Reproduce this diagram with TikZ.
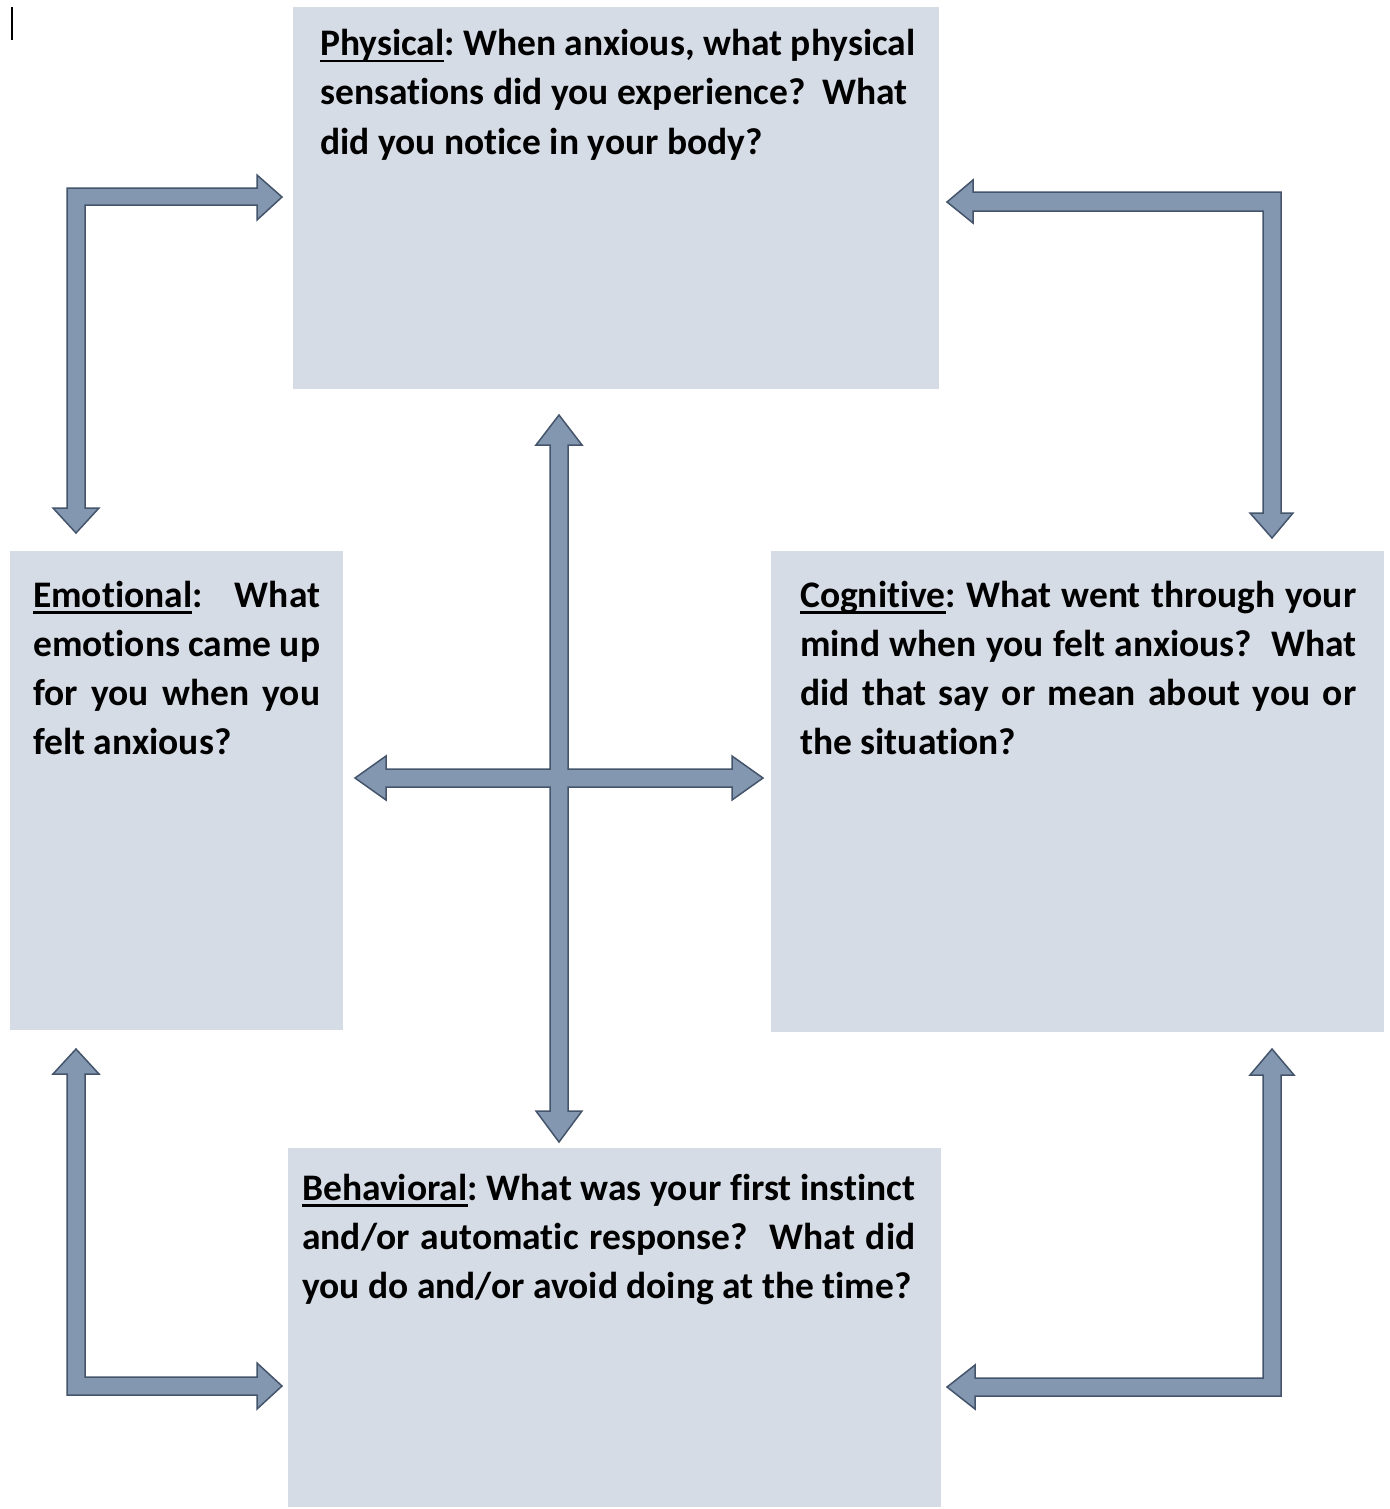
\documentclass[tikz,border=0pt]{standalone}
\usepackage{fontspec}
\setmainfont{Carlito}[Ligatures=NoCommon]
\frenchspacing
\definecolor{boxfill}{HTML}{D6DCE5}
\definecolor{arrfill}{HTML}{8497B0}
\definecolor{arrline}{HTML}{44546A}
\newcommand{\myul}[1]{{\setbox0\hbox{#1}\rlap{\rule[-6.5pt]{\wd0}{2.4pt}}\box0}}
\newcommand{\jl}[2]{\makebox[#1pt][s]{#2}}
\tikzset{
  box/.style={fill=boxfill, draw=none, anchor=north west, inner sep=0pt},
  txt/.style={anchor=base west, inner sep=0pt, font=\fontsize{37.5}{49}\selectfont\bfseries},
  blockarrow/.style={fill=arrfill, draw=arrline, line width=1.5pt, line join=miter}
}
\begin{document}
\begin{tikzpicture}[x=1pt,y=-1pt]
\useasboundingbox (0,0) rectangle (1389,1509);
% boxes
\node[box, minimum width=646pt, minimum height=382pt] (phys) at (293,7) {};
\node[box, minimum width=333pt, minimum height=479pt] (emo) at (10,551) {};
\node[box, minimum width=613pt, minimum height=481pt] (cog) at (771,551) {};
\node[box, minimum width=653pt, minimum height=359pt] (beh) at (288,1148) {};
% cursor mark
\draw[black, line width=1.3pt] (12,7) -- (12,40);
% Physical text
\node[txt] (p1) at (320,56) {\myul{Physical}: When anxious, what physical};
\node[txt] (p2) at (320,105) {sensations did you experience?~ What};
\node[txt] (p3) at (320,154) {did you notice in your body?};
% Emotional text
\node[txt] (e1) at (33,607) {\jl{287}{\myul{Emotional}: ~ What}};
\node[txt] (e2) at (33,656) {\jl{287}{emotions came up}};
\node[txt] (e3) at (33,705) {\jl{287}{for you when you}};
\node[txt] (e4) at (33,754) {felt anxious?};
% Cognitive text
\node[txt] (c1) at (800,607) {\jl{556}{\myul{Cognitive}: What went through your}};
\node[txt] (c2) at (800,656) {\jl{556}{mind when you felt anxious?~ What}};
\node[txt] (c3) at (800,705) {\jl{556}{did that say or mean about you or}};
\node[txt] (c4) at (800,754) {the situation?};
% Behavioral text
\node[txt] (b1) at (302,1200) {\jl{613}{\myul{Behavioral}: What was your first instinct}};
\node[txt] (b2) at (302,1249) {\jl{613}{and/or automatic response?~ What did}};
\node[txt] (b3) at (302,1298) {you do and/or avoid doing at the time?};
% top-left bent arrow
\draw[blockarrow] (76,533) -- (99,508) -- (85,508) -- (85,205) -- (257,205) -- (257,220) -- (282,197) -- (257,175) -- (257,188) -- (67,188) -- (67,508) -- (53,508) -- cycle;
% top-right bent arrow
\draw[blockarrow] (947,202) -- (973,180) -- (973,192) -- (1281,192) -- (1281,513) -- (1293,513) -- (1272,538) -- (1250,513) -- (1263,513) -- (1263,211) -- (973,211) -- (973,223) -- cycle;
% bottom-left bent arrow
\draw[blockarrow] (76,1049) -- (99,1074) -- (85,1074) -- (85,1377) -- (257,1377) -- (257,1363) -- (282,1386) -- (257,1409) -- (257,1395) -- (67,1395) -- (67,1074) -- (53,1074) -- cycle;
% bottom-right bent arrow
\draw[blockarrow] (1272,1049) -- (1294,1075) -- (1281,1075) -- (1281,1396) -- (975,1396) -- (975,1409) -- (947,1387) -- (975,1365) -- (975,1378) -- (1263,1378) -- (1263,1075) -- (1250,1075) -- cycle;
% central quad arrow
\draw[blockarrow] (559,415) -- (582,445) -- (568,445) -- (568,769) -- (732,769) -- (732,756) -- (763,778) -- (732,800) -- (732,787) -- (568,787) -- (568,1111) -- (582,1111) -- (559,1142) -- (536,1111) -- (550,1111) -- (550,787) -- (386,787) -- (386,800) -- (355,778) -- (386,756) -- (386,769) -- (550,769) -- (550,445) -- (536,445) -- cycle;
\end{tikzpicture}
\end{document}
